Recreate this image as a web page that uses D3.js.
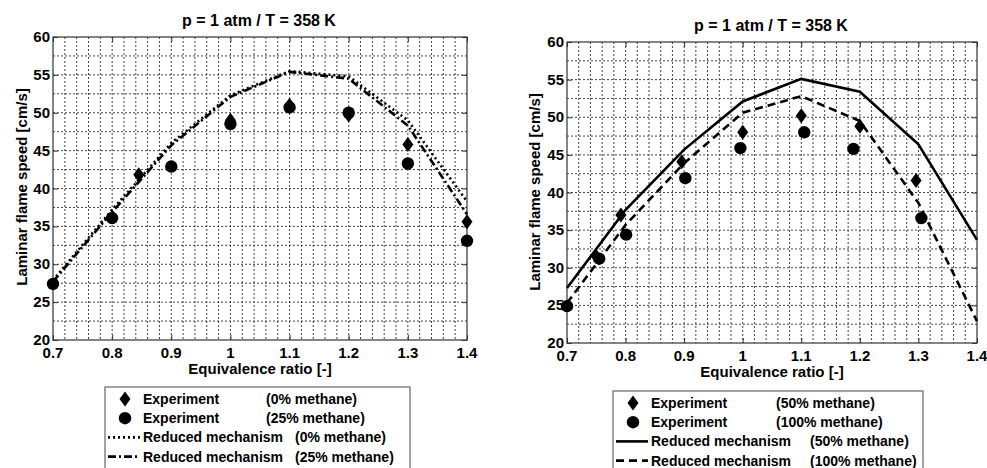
<!DOCTYPE html>
<html>
<head>
<meta charset="utf-8">
<script src="https://cdn.jsdelivr.net/npm/d3@7"></script>
<style>
  body { margin: 0; background: #fff; }
  svg { display: block; font-family: "Liberation Sans", Arial, sans-serif; font-weight: bold; }
</style>
</head>
<body>
<svg id="chart"></svg>
<script>
// Laminar flame speed vs equivalence ratio, two panels
const width = 987;
const height = 468;

const xTicks = [0.7, 0.8, 0.9, 1, 1.1, 1.2, 1.3, 1.4];
const yTicks = [20, 25, 30, 35, 40, 45, 50, 55, 60];
const titleText = "p = 1 atm / T = 358 K";

// simulation grid (both panels)
const phiSim = [0.7, 0.8, 0.9, 1.0, 1.1, 1.2, 1.3, 1.4];

// left panel
const phiExpL0 = [0.845, 1.0, 1.1, 1.2, 1.3, 1.4];
const sExpL0 = [41.8, 49.0, 51.0, 49.7, 45.8, 35.6];
const phiExpL25 = [0.7, 0.8, 0.9, 1.0, 1.1, 1.2, 1.3, 1.4];
const sExpL25 = [27.4, 36.1, 42.9, 48.5, 50.7, 50.0, 43.3, 33.1];
const sSimL0 = [27.9, 37.2, 46.0, 52.3, 55.5, 54.8, 49.0, 38.3];
const sSimL25 = [27.7, 36.9, 45.7, 52.1, 55.4, 54.5, 48.3, 36.6];

// right panel
const phiExpR50 = [0.75, 0.792, 0.896, 1.0, 1.1, 1.2, 1.296];
const sExpR50 = [31.5, 37.0, 44.1, 48.0, 50.2, 48.8, 41.6];
const phiExpR100 = [0.7, 0.755, 0.801, 0.902, 0.996, 1.105, 1.189, 1.305];
const sExpR100 = [24.9, 31.2, 34.4, 41.9, 45.9, 48.0, 45.8, 36.6];
const sSimR50 = [27.3, 37.7, 45.7, 52.1, 55.1, 53.4, 46.4, 33.7];
const sSimR100 = [25.3, 35.7, 43.9, 50.6, 52.8, 49.5, 38.6, 22.9];

const svg = d3.select("#chart")
    .attr("width", width)
    .attr("height", height)
    .attr("viewBox", `0 0 ${width} ${height}`);

const zip = (xs, ys) => xs.map((x, i) => ({ x, y: ys[i] }));

function drawPanel(p) {
    const x = d3.scaleLinear().domain([0.7, 1.4]).range([p.left, p.right]);
    const y = d3.scaleLinear().domain([20, 60]).range([p.bottom, p.top]);
    const g = svg.append("g");

    // dotted grid
    g.append("g").selectAll("line")
        .data(d3.range(0.72, 1.39, 0.02))
        .join("line")
        .attr("x1", d => x(d)).attr("x2", d => x(d))
        .attr("y1", p.top).attr("y2", p.bottom)
        .attr("stroke", "#444").attr("stroke-width", 1)
        .attr("stroke-dasharray", "2,2");
    g.append("g").selectAll("line")
        .data(d3.range(22.5, 59, 2.5))
        .join("line")
        .attr("y1", d => y(d)).attr("y2", d => y(d))
        .attr("x1", p.left).attr("x2", p.right)
        .attr("stroke", "#444").attr("stroke-width", 1)
        .attr("stroke-dasharray", "2,2");

    // axes with inward ticks
    const axB = d3.axisBottom(x).tickValues(xTicks).tickSize(-5).tickFormat("");
    const axT = d3.axisTop(x).tickValues(xTicks).tickSize(-5).tickFormat("");
    const axL = d3.axisLeft(y).tickValues(yTicks).tickSize(-5).tickFormat("");
    const axR = d3.axisRight(y).tickValues(yTicks).tickSize(-5).tickFormat("");
    [[axB, `translate(0,${p.bottom})`], [axT, `translate(0,${p.top})`],
     [axL, `translate(${p.left},0)`], [axR, `translate(${p.right},0)`]].forEach(([ax, tr]) => {
        const a = g.append("g").attr("transform", tr).call(ax);
        a.select(".domain").remove();
        a.selectAll("line").attr("stroke", "#333");
    });
    g.append("rect")
        .attr("x", p.left).attr("y", p.top)
        .attr("width", p.right - p.left).attr("height", p.bottom - p.top)
        .attr("fill", "none").attr("stroke", "#333").attr("stroke-width", 1.2);

    // tick labels
    g.append("g").selectAll("text")
        .data(xTicks).join("text")
        .attr("x", d => x(d)).attr("y", p.bottom + 18)
        .attr("text-anchor", "middle").attr("font-size", 15)
        .text(d => d3.format("")(d));
    g.append("g").selectAll("text")
        .data(yTicks).join("text")
        .attr("x", p.left - 3).attr("y", d => y(d) + 5)
        .attr("text-anchor", "end").attr("font-size", 15)
        .text(d => d);

    // titles
    g.append("text").attr("x", p.titleX).attr("y", p.titleY)
        .attr("text-anchor", "middle").attr("font-size", 16).text(titleText);
    g.append("text").attr("x", (p.left + p.right) / 2).attr("y", p.bottom + 34)
        .attr("text-anchor", "middle").attr("font-size", 15).text("Equivalence ratio [-]");
    g.append("text")
        .attr("transform", `translate(${p.ylabX},${p.ylabY}) rotate(-90)`)
        .attr("text-anchor", "middle").attr("font-size", 15)
        .text("Laminar flame speed [cm/s]");

    // model lines
    const line = d3.line().x(d => x(d.x)).y(d => y(d.y));
    p.lines.forEach(l => {
        g.append("path")
            .datum(zip(phiSim, l.values))
            .attr("d", line)
            .attr("fill", "none").attr("stroke", "#000")
            .attr("stroke-width", 2.6)
            .attr("stroke-dasharray", l.dash);
    });

    // experiments
    p.points.forEach(s => {
        const pts = zip(s.phi, s.values);
        if (s.shape === "diamond") {
            g.append("g").selectAll("path").data(pts).join("path")
                .attr("d", "M0,-7.5L5.5,0L0,7.5L-5.5,0Z")
                .attr("transform", d => `translate(${x(d.x)},${y(d.y)})`)
                .attr("fill", "#000");
        } else {
            g.append("g").selectAll("circle").data(pts).join("circle")
                .attr("cx", d => x(d.x)).attr("cy", d => y(d.y))
                .attr("r", 6.2).attr("fill", "#000");
        }
    });

    // legend
    const lg = svg.append("g");
    lg.append("rect")
        .attr("x", p.leg.x).attr("y", p.leg.y)
        .attr("width", p.leg.w).attr("height", 100)
        .attr("fill", "#fff").attr("stroke", "#666").attr("stroke-width", 1.2);
    p.leg.rows.forEach((r, i) => {
        const by = p.leg.y + 17 + i * 19.2;
        if (r.shape === "diamond") {
            lg.append("path").attr("d", "M0,-7.5L5.5,0L0,7.5L-5.5,0Z")
                .attr("transform", `translate(${p.leg.x + 20},${by - 5})`);
        } else if (r.shape === "circle") {
            lg.append("circle").attr("cx", p.leg.x + 20).attr("cy", by - 5).attr("r", 6.2);
        } else {
            lg.append("line")
                .attr("x1", p.leg.x + 3).attr("x2", p.leg.x + 35)
                .attr("y1", by - 5).attr("y2", by - 5)
                .attr("stroke", "#000").attr("stroke-width", 2.6)
                .attr("stroke-dasharray", r.dash);
        }
        lg.append("text").attr("x", p.leg.x + 38).attr("y", by)
            .attr("font-size", 14).text(r.label);
        lg.append("text").attr("x", p.leg.x + (r.shape ? p.leg.c1 : p.leg.c2)).attr("y", by)
            .attr("font-size", 14).text(r.note);
    });
}

drawPanel({
    left: 53, right: 467, top: 37, bottom: 340,
    titleX: 259, titleY: 26, ylabX: 27, ylabY: 187,
    lines: [
        { values: sSimL0, dash: "2,3" },
        { values: sSimL25, dash: "8,3,2,3" }
    ],
    points: [
        { phi: phiExpL0, values: sExpL0, shape: "diamond" },
        { phi: phiExpL25, values: sExpL25, shape: "circle" }
    ],
    leg: {
        x: 105, y: 387, w: 305, c1: 161, c2: 190,
        rows: [
            { shape: "diamond", label: "Experiment", note: "(0% methane)" },
            { shape: "circle", label: "Experiment", note: "(25% methane)" },
            { dash: "2,3", label: "Reduced mechanism", note: "(0% methane)" },
            { dash: "8,3,2,3", label: "Reduced mechanism", note: "(25% methane)" }
        ]
    }
});

drawPanel({
    left: 567, right: 977, top: 42, bottom: 343,
    titleX: 771, titleY: 31, ylabX: 540, ylabY: 192,
    lines: [
        { values: sSimR50, dash: null },
        { values: sSimR100, dash: "8,5" }
    ],
    points: [
        { phi: phiExpR50, values: sExpR50, shape: "diamond" },
        { phi: phiExpR100, values: sExpR100, shape: "circle" }
    ],
    leg: {
        x: 613, y: 391, w: 310, c1: 163, c2: 197,
        rows: [
            { shape: "diamond", label: "Experiment", note: "(50% methane)" },
            { shape: "circle", label: "Experiment", note: "(100% methane)" },
            { dash: null, label: "Reduced mechanism", note: "(50% methane)" },
            { dash: "8,5", label: "Reduced mechanism", note: "(100% methane)" }
        ]
    }
});
</script>
</body>
</html>
